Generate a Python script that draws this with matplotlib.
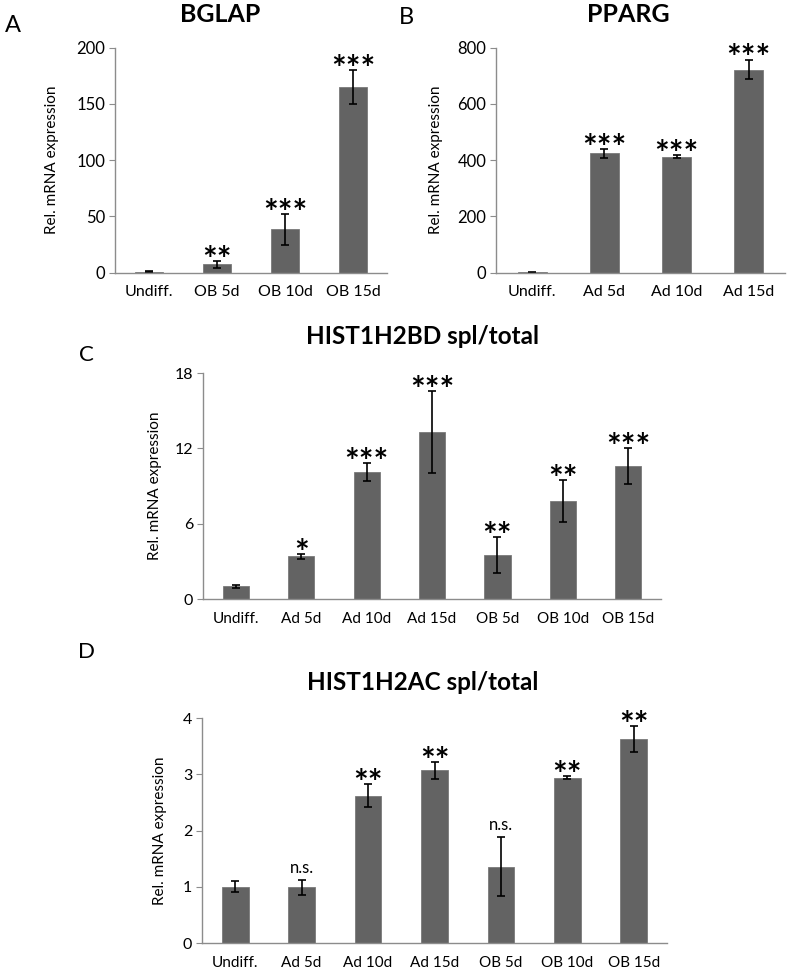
import matplotlib
matplotlib.use("Agg")
import matplotlib.pyplot as plt

plt.rcParams['font.family'] = ['Lato', 'DejaVu Sans']

BAR = '#636363'
AXC = '#8c8c8c'

# panel A - BGLAP
a_labels = ["Undiff.", "OB 5d", "OB 10d", "OB 15d"]
a_vals = [1.0, 7.5, 38.5, 165]
a_err = [0.5, 3.0, 13.5, 15]
a_sig = ["", "**", "***", "***"]

# panel B - PPARG
b_labels = ["Undiff.", "Ad 5d", "Ad 10d", "Ad 15d"]
b_vals = [1.0, 424, 412, 722]
b_err = [0.5, 15, 6, 35]
b_sig = ["", "***", "***", "***"]

# panel C - HIST1H2BD spl/total
c_labels = ["Undiff.", "Ad 5d", "Ad 10d", "Ad 15d", "OB 5d", "OB 10d", "OB 15d"]
c_vals = [1.0, 3.4, 10.1, 13.3, 3.5, 7.8, 10.6]
c_err = [0.15, 0.2, 0.72, 3.25, 1.42, 1.66, 1.4]
c_sig = ["", "*", "***", "***", "**", "**", "***"]

# panel D - HIST1H2AC spl/total
d_labels = ["Undiff.", "Ad 5d", "Ad 10d", "Ad 15d", "OB 5d", "OB 10d", "OB 15d"]
d_vals = [1.0, 0.99, 2.62, 3.07, 1.36, 2.94, 3.62]
d_err = [0.1, 0.13, 0.21, 0.15, 0.53, 0.03, 0.23]
d_sig = ["", "n.s.", "**", "**", "n.s.", "**", "**"]


def panel(ax, labels, vals, errs, sigs, ylim, yticks, ylab_x, fs):
    x = list(range(len(labels)))
    ax.bar(x, vals, width=0.4, color=BAR, edgecolor='#7a7a7a', linewidth=0.6)
    ax.errorbar(x, vals, yerr=errs, fmt='none', ecolor='black',
                elinewidth=1.2, capsize=3, capthick=1.2)
    for xi, v, e, s in zip(x, vals, errs, sigs):
        if not s:
            continue
        if s == "n.s.":
            ax.annotate(s, (xi, v + e), xytext=(0, 3), textcoords='offset points',
                        ha='center', va='bottom', fontsize=fs + 1)
        else:
            ax.annotate(s, (xi, v + e), xytext=(0, -7), textcoords='offset points',
                        ha='center', va='baseline', fontsize=25, fontweight='bold')
    ax.set_xlim(-0.5, len(labels) - 0.5)
    ax.set_ylim(*ylim)
    ax.set_yticks(yticks)
    ax.set_xticks(x)
    ax.set_xticklabels(labels, fontsize=fs)
    ax.tick_params(axis='x', length=0, pad=9)
    ax.tick_params(axis='y', length=4, color=AXC, labelsize=fs + 0.5, pad=3)
    for sp in ['top', 'right']:
        ax.spines[sp].set_visible(False)
    for sp in ['left', 'bottom']:
        ax.spines[sp].set_color(AXC)
        ax.spines[sp].set_linewidth(1.0)
    ax.set_ylabel("Rel. mRNA expression", fontsize=11)
    ax.yaxis.set_label_coords(ylab_x, 0.5)


fig = plt.figure(figsize=(7.9, 9.71), dpi=100)

axA = fig.add_axes([0.1456, 0.7192, 0.3443, 0.2317])
panel(axA, a_labels, a_vals, a_err, a_sig, (0, 200), [0, 50, 100, 150, 200], -0.205, 11.5)

axB = fig.add_axes([0.6278, 0.7192, 0.3658, 0.2317])
panel(axB, b_labels, b_vals, b_err, b_sig, (0, 800), [0, 200, 400, 600, 800], -0.185, 11.5)

axC = fig.add_axes([0.257, 0.3831, 0.5797, 0.2327])
panel(axC, c_labels, c_vals, c_err, c_sig, (0, 18), [0, 6, 12, 18], -0.09, 11)

axD = fig.add_axes([0.2557, 0.0288, 0.5886, 0.2317])
panel(axD, d_labels, d_vals, d_err, d_sig, (0, 4), [0, 1, 2, 3, 4], -0.075, 11)

# titles and panel letters
fig.text(220 / 790, 1 - 14 / 971, "BGLAP", ha='center', va='center', fontsize=18, fontweight='bold')
fig.text(628 / 790, 1 - 14 / 971, "PPARG", ha='center', va='center', fontsize=18, fontweight='bold')
fig.text(423 / 790, 1 - 337 / 971, "HIST1H2BD spl/total", ha='center', va='center', fontsize=17.5, fontweight='bold')
fig.text(423 / 790, 1 - 682 / 971, "HIST1H2AC spl/total", ha='center', va='center', fontsize=17.5, fontweight='bold')

fig.text(13 / 790, 1 - 25 / 971, "A", ha='center', va='center', fontsize=17)
fig.text(406 / 790, 1 - 17 / 971, "B", ha='center', va='center', fontsize=17)
fig.text(86 / 790, 1 - 355 / 971, "C", ha='center', va='center', fontsize=16)
fig.text(86 / 790, 1 - 652 / 971, "D", ha='center', va='center', fontsize=16)

fig.savefig("out.png", dpi=100)
